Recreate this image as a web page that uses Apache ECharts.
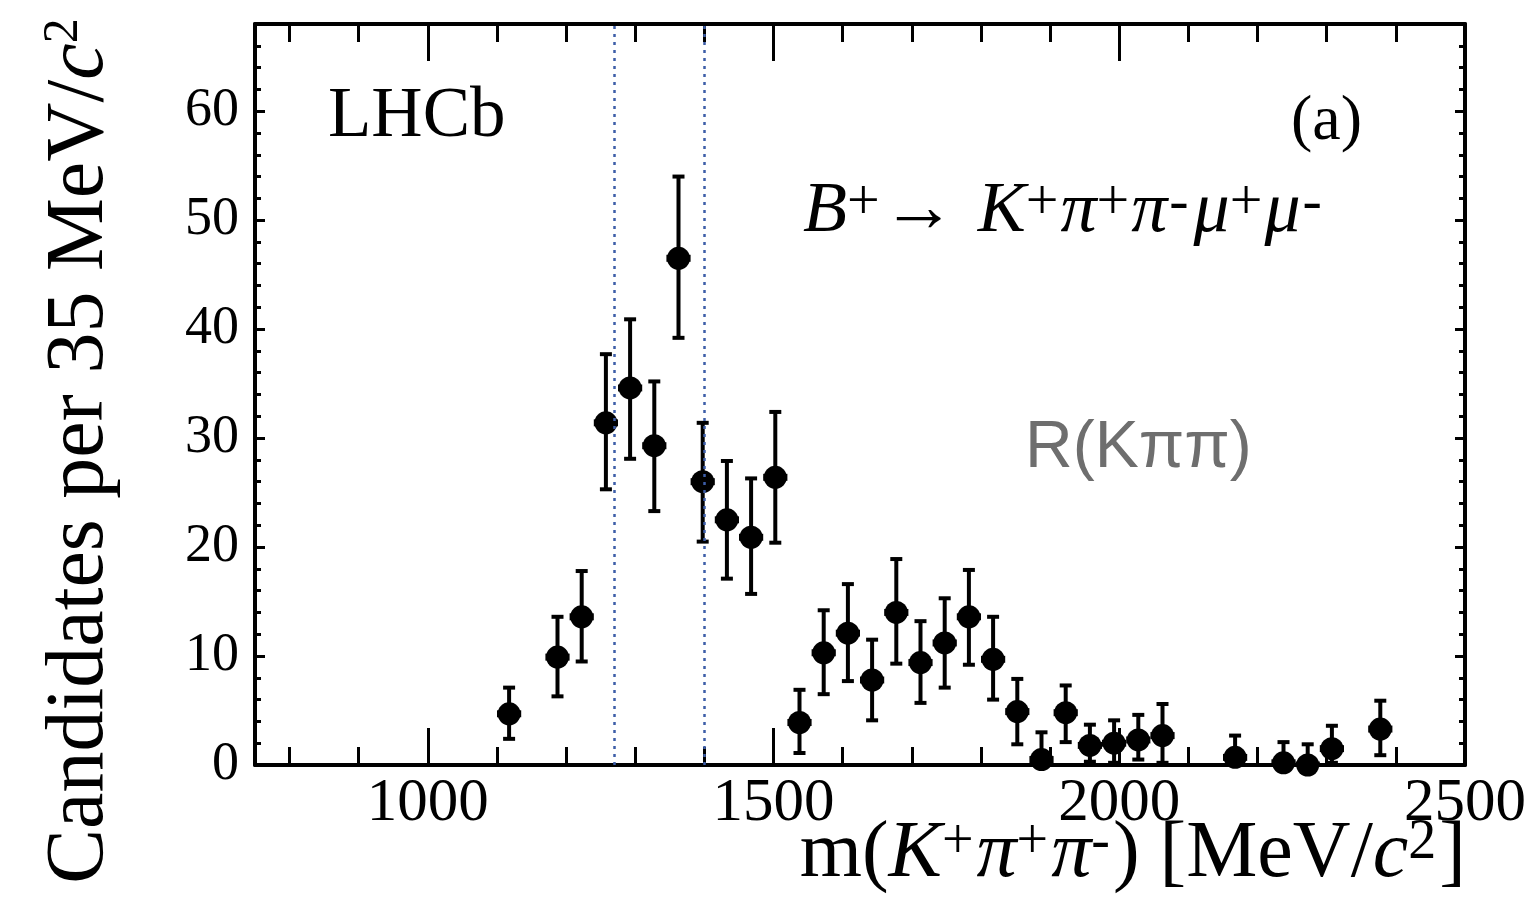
<!DOCTYPE html>
<html>
<head>
<meta charset="utf-8">
<title>m(K+pi+pi-) candidates</title>
<script src="https://cdn.jsdelivr.net/npm/echarts@6/dist/echarts.min.js"></script>
<style>
  html, body { margin: 0; padding: 0; background: #fff; }
  #main { width: 1533px; height: 908px; }
</style>
</head>
<body>
<div id="main"></div>
<script>
// bin centres [MeV/c2], bins are 35 MeV wide
var massBins = [1117.5, 1187.5, 1222.5, 1257.5, 1292.5, 1327.5, 1362.5, 1397.5, 1432.5, 1467.5,
                1502.5, 1537.5, 1572.5, 1607.5, 1642.5, 1677.5, 1712.5, 1747.5, 1782.5, 1817.5,
                1852.5, 1887.5, 1922.5, 1957.5, 1992.5, 2027.5, 2062.5, 2167.5, 2237.5, 2272.5,
                2307.5, 2377.5];
var counts   = [4.7, 9.9, 13.6, 31.4, 34.6, 29.3, 46.5, 26.0, 22.5, 20.9,
                26.4, 3.9, 10.3, 12.1, 7.8, 14.0, 9.4, 11.2, 13.6, 9.7,
                4.9, 0.5, 4.8, 1.8, 2.0, 2.3, 2.7, 0.7, 0.2, 0.0,
                1.5, 3.3];
// upper / lower ends of the error bars
var errHigh  = [7.1, 13.6, 17.8, 37.7, 40.9, 35.2, 54.0, 31.4, 27.9, 26.3,
                32.4, 6.9, 14.2, 16.6, 11.5, 18.9, 13.2, 15.3, 17.9, 13.6,
                7.9, 3.0, 7.3, 3.7, 4.1, 4.6, 5.6, 2.7, 2.1, 1.9,
                3.6, 5.9];
var errLow   = [2.4, 6.3, 9.5, 25.3, 28.1, 23.3, 39.2, 20.5, 17.1, 15.7,
                20.4, 1.1, 6.5, 7.7, 4.1, 9.3, 5.7, 7.1, 9.2, 6.0,
                1.9, 0, 2.1, 0.3, 0.2, 0.5, 0.2, 0, 0, 0,
                0.2, 0.9];
var binHalfWidth = 17.5;
var windowEdges = [1270, 1400];
var xRange = [750, 2500];
var yRange = [0, 68];

var serif = 'Liberation Serif';
var chart = echarts.init(document.getElementById('main'));

function xAxisCfg(pos, split, tickLen, labels) {
    return {
        type: 'value', position: pos, min: xRange[0], max: xRange[1], splitNumber: split,
        axisLine: {show: labels !== null, onZero: false, lineStyle: {color: '#000', width: 4}},
        axisTick: {show: true, inside: true, length: tickLen, lineStyle: {color: '#000', width: 3}},
        axisLabel: labels || {show: false},
        splitLine: {show: false}
    };
}
function yAxisCfg(pos, step, tickLen, labels) {
    return {
        type: 'value', position: pos, min: yRange[0], max: yRange[1], interval: step,
        axisLine: {show: labels !== null, onZero: false, lineStyle: {color: '#000', width: 4}},
        axisTick: {show: true, inside: true, length: tickLen, lineStyle: {color: '#000', width: 3}},
        axisLabel: labels || {show: false},
        splitLine: {show: false}
    };
}

var xLabels = {show: true, showMinLabel: false, margin: 8, color: '#000', fontFamily: serif, fontSize: 61,
               formatter: function (v) { return String(v); }};
var yLabels = {show: true, showMaxLabel: false, margin: 16, color: '#000', fontFamily: serif, fontSize: 54};

function renderErrorBar(params, api) {
    var x = api.value(0), y = api.value(1);
    var top = api.coord([x, api.value(3)]);
    var bot = api.coord([x, api.value(2)]);
    var left = api.coord([x - binHalfWidth, y]);
    var right = api.coord([x + binHalfWidth, y]);
    var cap = 6;
    function seg(x1, y1, x2, y2, w) {
        return {type: 'line', shape: {x1: x1, y1: y1, x2: x2, y2: y2},
                style: {stroke: '#000', lineWidth: w}};
    }
    return {type: 'group', children: [
        seg(top[0], top[1], bot[0], bot[1], 4),
        seg(top[0] - cap, top[1], top[0] + cap, top[1], 4),
        seg(bot[0] - cap, bot[1], bot[0] + cap, bot[1], 4),
        seg(left[0], left[1], right[0], right[1], 7)
    ]};
}

option = {
    animation: false,
    backgroundColor: '#fff',
    grid: {left: 255, right: 68, top: 24, bottom: 143, containLabel: false, outerBoundsMode: 'none'},
    xAxis: [
        xAxisCfg('bottom', 4, 37, xLabels),
        xAxisCfg('bottom', 17, 18, null),
        xAxisCfg('top', 4, 37, {show: false}),
        xAxisCfg('top', 17, 18, null)
    ],
    yAxis: [
        yAxisCfg('left', 10, 10, yLabels),
        yAxisCfg('left', 2, 6, null),
        yAxisCfg('right', 10, 10, {show: false}),
        yAxisCfg('right', 2, 6, null)
    ],
    series: [
        {
            type: 'custom',
            name: 'errors',
            renderItem: renderErrorBar,
            clip: true,
            z: 3,
            data: massBins.map(function (m, i) { return [m, counts[i], errLow[i], errHigh[i]]; })
        },
        {
            type: 'scatter',
            name: 'data',
            symbol: 'circle',
            symbolSize: 23,
            itemStyle: {color: '#000', opacity: 1},
            z: 4,
            data: massBins.map(function (m, i) { return [m, counts[i]]; }),
            markLine: {
                silent: true,
                symbol: 'none',
                label: {show: false},
                lineStyle: {color: '#3d5ea8', width: 2.5, type: [3, 5], opacity: 1},
                data: windowEdges.map(function (v) { return {xAxis: v}; })
            }
        }
    ],
    graphic: [
        {type: 'text', x: 328, y: 117, style: {
            text: 'LHCb', font: '71px "Liberation Serif"', fill: '#000',
            align: 'left', textAlign: 'left', verticalAlign: 'middle', textVerticalAlign: 'middle'}},
        {type: 'text', x: 1362, y: 122, style: {
            text: '(a)', font: '64px "Liberation Serif"', fill: '#000',
            align: 'right', textAlign: 'right', verticalAlign: 'middle', textVerticalAlign: 'middle'}},
        {type: 'text', x: 803, y: 212, style: {
            text: '{i|B}{s|+}{a|\u2192}{i|K}{s|+}{i|\u03c0}{s|+}{i|\u03c0}{m|-}{i|\u03bc}{s|+}{i|\u03bc}{m|-}',
            fill: '#000', align: 'left', textAlign: 'left', verticalAlign: 'middle', textVerticalAlign: 'middle',
            rich: {
                i: {fontFamily: serif, fontStyle: 'italic', fontSize: 72},
                a: {fontFamily: serif, fontSize: 74, padding: [0, 22, 0, 0]},
                s: {fontFamily: serif, fontSize: 58, verticalAlign: 'top', padding: [0, 2, 0, 0]},
                m: {fontFamily: serif, fontSize: 58, verticalAlign: 'top', padding: [0, 5, 0, 2]}
            }}},
        {type: 'text', x: 1025, y: 449, style: {
            text: 'R(K\u03c0\u03c0)', font: '66px "Liberation Sans"', fill: '#6e6e6e',
            align: 'left', textAlign: 'left', verticalAlign: 'middle', textVerticalAlign: 'middle'}},
        {type: 'text', x: 1466, y: 855, style: {
            text: '{n|m(}{i|K}{s|+}{i|\u03c0}{s|+}{i|\u03c0}{s|-}{n|) [MeV/}{i|c}{s|2}{n|]}',
            fill: '#000', align: 'right', textAlign: 'right', verticalAlign: 'middle', textVerticalAlign: 'middle',
            rich: {
                i: {fontFamily: serif, fontStyle: 'italic', fontSize: 80},
                n: {fontFamily: serif, fontSize: 80},
                s: {fontFamily: serif, fontSize: 56, verticalAlign: 'top', padding: [0, 3, 0, 0]}
            }}},
        {type: 'text', x: 80, y: 451, rotation: Math.PI / 2, style: {
            text: '{n|Candidates per 35 MeV/}{i|c}{s|2}',
            fill: '#000', align: 'center', textAlign: 'center', verticalAlign: 'middle', textVerticalAlign: 'middle',
            rich: {
                i: {fontFamily: serif, fontStyle: 'italic', fontSize: 82},
                n: {fontFamily: serif, fontSize: 82},
                s: {fontFamily: serif, fontSize: 50, verticalAlign: 'top'}
            }}}
    ]
};

chart.setOption(option);
</script>
</body>
</html>
